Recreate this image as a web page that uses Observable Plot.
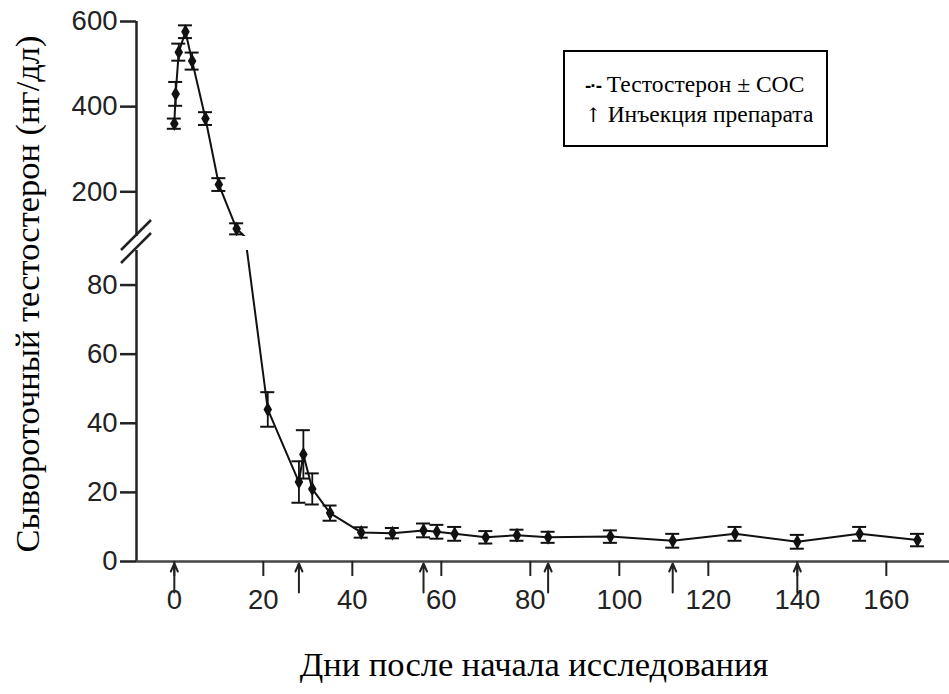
<!DOCTYPE html>
<html><head><meta charset="utf-8">
<script src="https://cdn.jsdelivr.net/npm/d3@7"></script>
<script src="https://cdn.jsdelivr.net/npm/@observablehq/plot@0.6"></script>
<style>
body{margin:0;background:#fff;}
#wrap{position:relative;width:949px;height:694px;overflow:hidden;background:#fff;}
#upper,#lower,#overlay{position:absolute;left:0;}
#upper{top:0;}
#lower{top:240px;}
#overlay{top:0;pointer-events:none;}
#legend{position:absolute;left:563px;top:50px;width:265px;height:97px;box-sizing:border-box;border:2px solid #000;
  font-family:"Liberation Serif","DejaVu Serif",serif;font-size:23.5px;color:#000;padding:18px 0 0 20px;line-height:28px;white-space:nowrap;}
#legend .arr{font-family:"DejaVu Serif","DejaVu Sans",serif;font-size:20px;color:#000;}
#legend .dash{font-family:"Liberation Sans",Arial,sans-serif;font-weight:bold;font-size:19px;letter-spacing:-1px;}
#xlabel{position:absolute;left:0;width:1068px;text-align:center;top:645px;font-family:"Liberation Serif","DejaVu Serif",serif;font-size:34.5px;color:#000;}
</style></head><body>
<div id="wrap">
  <div id="upper"></div>
  <div id="lower"></div>
  <svg id="overlay" width="949" height="694"></svg>
  <div id="legend"><div><span class="dash">-·-</span> Тестостерон ± СОС</div><div><span class="arr">↑</span> Инъекция препарата</div></div>
  <div id="xlabel">Дни после начала исследования</div>
</div>
<script>
// ---- data ----
const days   = [0,   0.3, 1,   2.5, 4,   7,   10,  14,  21, 28, 29, 31, 35, 42,  49,  56, 59,  63, 70, 77,  84, 98,  112, 126, 140, 154, 167];
const values = [360, 430, 528, 576, 507, 372, 217, 113, 44, 23, 31, 21, 14, 8.4, 8.2, 9,  8.6, 8,  7,  7.6, 7,  7.2, 6,   8,   5.7, 8,   6.2];
const errors = [12,  28,  20,  15,  20,  15,  15,  13,  5,  6,  7,  4.5,2.2,1.5, 1.5, 2,  2,   2,  1.8,1.6, 1.6,1.8, 2,   2,   2,   2,   1.8];
const injectionDays = [0, 28, 56, 84, 112, 140];
const xTicks = [0, 20, 40, 60, 80, 100, 120, 140, 160];
const upperTicks = [200, 400, 600];
const lowerTicks = [0, 20, 40, 60, 80];
const upperDomain = [95, 600];
const lowerDomain = [0, 90];
const xDomain = [-8.5, 174.2];
const yLabel = "Сывороточный тестостерон (нг/дл)";

const data = days.map((d, i) => ({day: d, v: values[i], e: errors[i]}));
const ink = "#111";
const style = {fontFamily: "'Liberation Sans', Arial, sans-serif", fontSize: "27.5px", color: "#222", background: "transparent", overflow: "visible"};

function dataMarks() {
  return [
    Plot.ruleX(data, {x: "day", y1: d => d.v - d.e, y2: d => d.v + d.e, stroke: ink, strokeWidth: 1.8, clip: true}),
    Plot.ruleY(data, {x1: "day", x2: "day", y: d => d.v + d.e, insetLeft: -7, insetRight: -7, stroke: ink, strokeWidth: 2, clip: true}),
    Plot.ruleY(data, {x1: "day", x2: "day", y: d => d.v - d.e, insetLeft: -7, insetRight: -7, stroke: ink, strokeWidth: 2, clip: true}),
    Plot.line(data, {x: "day", y: "v", stroke: ink, strokeWidth: 2, clip: true}),
    Plot.dot(data, {x: "day", y: "v", symbol: "diamond", fill: ink, r: 4.5, clip: true})
  ];
}

const upper = Plot.plot({
  width: 949, height: 236, marginLeft: 136, marginRight: 0, marginTop: 21, marginBottom: 0,
  style,
  x: {domain: xDomain, axis: null},
  y: {domain: upperDomain},
  marks: [
    ...dataMarks(),
    Plot.ruleX([xDomain[0]], {stroke: "#222", strokeWidth: 2.5}),
    Plot.axisY({ticks: upperTicks, tickSize: 16, tickPadding: 3, label: null, strokeWidth: 2.5})
  ]
});
document.getElementById("upper").appendChild(upper);

const arrowShape = {
  draw(context, l) {
    context.moveTo(0, 0); context.lineTo(0, -l);
    context.moveTo(-3.5, -l + 8); context.lineTo(0, -l); context.lineTo(3.5, -l + 8);
  }
};

const lower = Plot.plot({
  width: 949, height: 381, marginLeft: 136, marginRight: 0, marginTop: 10, marginBottom: 60,
  style,
  x: {domain: xDomain},
  y: {domain: lowerDomain},
  marks: [
    ...dataMarks(),
    Plot.ruleX([xDomain[0]], {stroke: "#222", strokeWidth: 2.5}),
    Plot.ruleY([lowerDomain[0]], {stroke: "#444", strokeWidth: 2.5}),
    Plot.axisY({ticks: lowerTicks, tickSize: 16, tickPadding: 3, label: null, strokeWidth: 2.5}),
    Plot.axisX({ticks: xTicks, tickSize: 15, tickPadding: 13, label: null, strokeWidth: 2}),
    Plot.vector(injectionDays, {x: d => d, frameAnchor: "bottom", length: 29, rotate: 0, anchor: "end", dy: 2,
      shape: arrowShape, stroke: "#222", strokeWidth: 2})
  ]
});
document.getElementById("lower").appendChild(lower);

// axis break marks and y label
const ov = d3.select("#overlay");
ov.append("line").attr("x1", 121).attr("y1", 250).attr("x2", 151).attr("y2", 220).attr("stroke", "#222").attr("stroke-width", 2.5);
ov.append("line").attr("x1", 121).attr("y1", 263).attr("x2", 151).attr("y2", 233).attr("stroke", "#222").attr("stroke-width", 2.5);
ov.append("text").attr("transform", "translate(27,294) rotate(-90)")
  .attr("text-anchor", "middle").attr("dominant-baseline", "central")
  .attr("font-family", "'Liberation Serif','DejaVu Serif',serif").attr("font-size", 34.5).attr("fill", "#000")
  .text(yLabel);
</script>
</body></html>
